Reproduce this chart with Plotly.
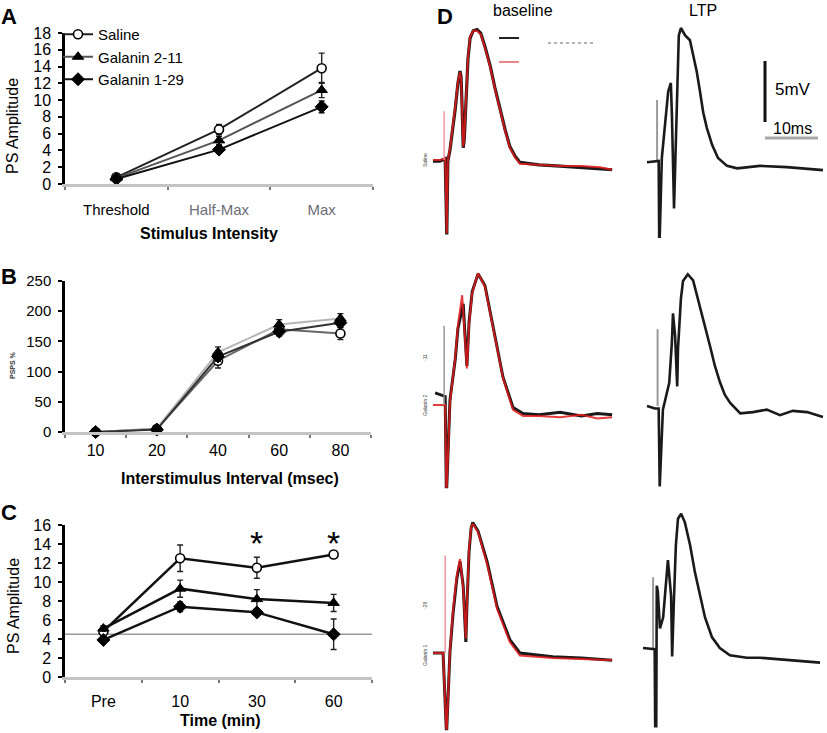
import plotly.graph_objects as go

W, H = 827, 733
FONT = "Liberation Sans, Arial, sans-serif"


def fx(p):
    return p / W


def fy(p):
    return 1 - p / H


SERIES = ["Saline", "Galanin 2-11", "Galanin 1-29"]

# ---------------- Panel A ----------------
A_CATS = ["Threshold", "Half-Max", "Max"]
A_SALINE = [0.8, 6.5, 13.8]
A_SALINE_ERR = [0.2, 0.6, 1.8]
A_G211 = [0.7, 5.2, 11.2]
A_G211_ERR = [0.2, 0.5, 0.9]
A_G129 = [0.6, 4.1, 9.2]
A_G129_ERR = [0.2, 0.4, 0.7]
A_YTICKS = [0, 2, 4, 6, 8, 10, 12, 14, 16, 18]

# ---------------- Panel B ----------------
B_CATS = ["10", "20", "40", "60", "80"]
B_SALINE = [0, 5, 118, 170, 163]
B_SALINE_ERR = [2, 3, 12, 8, 10]
B_G211 = [0, 6, 132, 178, 188]
B_G211_ERR = [2, 3, 9, 8, 8]
B_G129 = [0, 4, 125, 166, 181]
B_G129_ERR = [2, 3, 8, 7, 8]
B_YTICKS = [0, 50, 100, 150, 200, 250]

# ---------------- Panel C ----------------
C_CATS = ["Pre", "10", "30", "60"]
C_SALINE = [4.8, 12.5, 11.5, 12.9]
C_SALINE_ERR = [0.4, 1.4, 1.1, 0.4]
C_G211 = [5.1, 9.3, 8.2, 7.8]
C_G211_ERR = [0.3, 0.9, 1.0, 0.9]
C_G129 = [3.9, 7.4, 6.8, 4.5]
C_G129_ERR = [0.3, 0.5, 0.3, 1.6]
C_YTICKS = [0, 2, 4, 6, 8, 10, 12, 14, 16]
C_BASELINE = [4.5]
C_STAR_CATS = ["30", "60"]
C_STAR_Y = [14.9, 14.9]

# ---------------- Panel D (field potentials, ms / mV) ----------------
BL1_T = [0, 1.3, 2.3, 2.5, 2.6, 2.8, 3.2, 4.2, 4.7, 5.1, 5.3, 5.5, 5.7, 5.9, 6.2, 6.6, 7.0, 7.6, 8.3, 9.0,
         9.8, 10.8, 11.7, 12.6, 13.6, 14.5, 15.5, 16.4, 20, 24, 28, 31.5, 33.8]
BL1_V = [-0.1, -0.1, 0.1, -6.1, -6.1, -0.1, 0.8, 4.2, 6.3, 7.3, 6.8, 4.2, 1.0, 1.7, 5.0, 8.3, 10.0, 10.6, 10.7, 10.4,
         9.3, 7.7, 5.9, 4.2, 2.5, 1.1, 0.3, -0.2, -0.4, -0.5, -0.6, -0.7, -0.8]
BR1_V = [0.0, 0.0, 0.1, -6.0, -6.0, 0.0, 0.9, 4.4, 6.4, 7.2, 6.6, 4.0, 1.1, 1.9, 5.2, 8.4, 10.1, 10.6, 10.6, 10.3,
         9.2, 7.6, 5.8, 4.1, 2.4, 1.0, 0.2, -0.3, -0.4, -0.5, -0.5, -0.6, -0.8]
BS1_T = [2.1, 2.1]
BS1_V = [0, 4.0]

LT1_T = [0, 2.0, 2.2, 2.3, 2.4, 2.8, 3.4, 4.0, 4.5, 4.7, 5.1, 5.5, 5.7, 6.0, 6.4, 7.2, 8.1, 8.7, 9.4, 10.0,
         10.6, 11.3, 12.3, 13.4, 15.1, 17.0, 21.3, 26.4, 33.2]
LT1_V = [-0.1, 0.0, 0.0, -6.2, -6.2, 0.25, 2.95, 5.7, 6.4, 3.8, -3.9, 2.3, 6.4, 10.3, 10.9, 10.3, 9.9, 8.7, 7.3, 5.7,
         4.0, 2.7, 1.3, 0.25, -0.4, -0.6, -0.4, -0.5, -0.75]
LS1_T = [1.9, 1.9]
LS1_V = [0, 5.0]

BL2_T = [0.4, 2.3, 2.5, 2.6, 3.2, 4.2, 4.7, 5.7, 6.0, 6.4, 6.8, 7.4, 8.5, 9.8, 11.3, 13.2, 15.1, 17.0, 20, 24,
         28, 31, 33.8]
BL2_V = [1.0, 0.7, -6.7, -6.7, 0.4, 3.75, 6.25, 8.3, 6.0, 3.2, 6.8, 9.3, 10.75, 9.8, 6.5, 2.3, -0.2, -0.7, -0.8, -0.6,
         -0.9, -0.7, -0.8]
BR2_T = [0, 2.0, 2.3, 2.5, 2.6, 3.2, 4.2, 4.7, 5.5, 5.8, 6.1, 6.4, 6.8, 7.4, 8.5, 9.8, 11.3, 13.2, 15.1, 17.0,
         20, 24, 28, 31, 33.8]
BR2_V = [0, 0, 0, -6.7, -6.7, 0.2, 3.9, 6.5, 9.0, 7.0, 4.5, 3.0, 6.6, 9.2, 10.8, 9.7, 6.4, 2.2, -0.4, -0.9,
         -0.9, -1.0, -0.8, -1.1, -1.0]
BS2_T = [2.1, 2.1]
BS2_V = [0, 6.5]

LT2_T = [0, 1.5, 2.2, 2.3, 2.4, 3.0, 4.2, 4.7, 4.9, 5.3, 5.7, 5.85, 6.4, 6.8, 7.7, 8.7, 10.0, 11.0, 11.9, 12.8,
         13.8, 14.7, 15.7, 17.6, 20, 22.6, 25.1, 27.5, 30.2, 33.2]
LT2_V = [0, -0.2, -0.2, -6.6, -6.6, -0.3, 1.9, 5.25, 7.6, 5.75, 1.6, 4.7, 8.8, 10.25, 10.8, 10.3, 8.2, 6.5, 4.9, 3.3,
         1.9, 0.9, 0.25, -0.6, -0.5, -0.3, -0.75, -0.4, -0.5, -0.9]
LS2_T = [2.0, 2.0]
LS2_V = [0, 6.3]

BL3_T = [0, 1.9, 2.5, 2.6, 3.2, 3.8, 4.5, 5.1, 5.7, 6.2, 6.4, 6.8, 7.2, 7.5, 8.5, 10.2, 12.1, 14.5, 16.4, 22.6,
         28, 33.8]
BL3_V = [0, 0, -6.2, -6.2, 0.1, 3.3, 6.1, 7.5, 5.5, 0.9, 3.8, 8.3, 10.25, 10.7, 10.0, 7.5, 3.8, 1.1, 0, -0.3,
         -0.4, -0.6]
BR3_V = [0, 0, -6.2, -6.2, 0.3, 3.6, 6.4, 7.7, 5.3, 1.2, 4.0, 8.5, 10.3, 10.6, 9.9, 7.3, 3.6, 0.9, -0.2, -0.4,
         -0.5, -0.6]
BS3_T = [2.3, 2.3]
BS3_V = [0, 8.0]

LT3_T = [0, 1.9, 2.2, 2.3, 2.5, 2.6, 2.8, 3.2, 3.8, 4.2, 4.7, 5.3, 5.5, 5.8, 6.2, 6.6, 7.2, 7.9, 8.9, 9.8,
         10.8, 11.7, 13.0, 14.5, 16.4, 19.6, 22.1, 27, 33.4]
LT3_V = [0, -0.1, -0.1, -6.4, -6.4, 5.1, 4.6, 1.6, 2.5, 4.6, 7.2, 4.3, -0.7, 3.5, 8.4, 10.6, 11.0, 10.3, 8.4, 6.2,
         4.1, 2.5, 0.9, 0, -0.6, -0.8, -0.8, -1.0, -1.2]
LS3_T = [1.9, 1.9]
LS3_V = [0, 5.8]

SCALE_MV = [5]
SCALE_MS = [10]

# ---------------- figure ----------------
fig = go.Figure()

MARKERS = [
    dict(symbol="circle", color="white", size=9, line=dict(color="black", width=1.6)),
    dict(symbol="triangle-up", color="black", size=10, line=dict(color="black", width=1)),
    dict(symbol="diamond", color="black", size=10, line=dict(color="black", width=1)),
]


def add_group(cats, vals, errs, ax, colors, width, legend):
    for i in range(3):
        fig.add_trace(go.Scatter(
            x=cats, y=vals[i], name=SERIES[i], mode="lines+markers",
            xaxis="x" + ax, yaxis="y" + ax,
            line=dict(color=colors[i], width=width),
            marker=MARKERS[i],
            error_y=dict(type="data", array=errs[i], color="#222", thickness=1.4, width=3),
            showlegend=legend, cliponaxis=False,
        ))


add_group(A_CATS, [A_SALINE, A_G211, A_G129], [A_SALINE_ERR, A_G211_ERR, A_G129_ERR],
          "", ["#222", "#555", "#111"], 2, True)
add_group(B_CATS, [B_SALINE, B_G211, B_G129], [B_SALINE_ERR, B_G211_ERR, B_G129_ERR],
          "2", ["#666", "#b5b5b5", "#333"], 2, False)
add_group(C_CATS, [C_SALINE, C_G211, C_G129], [C_SALINE_ERR, C_G211_ERR, C_G129_ERR],
          "3", ["#111", "#111", "#111"], 2.5, False)

# stars in C (category positions by index)
for cat, yv in zip(C_STAR_CATS, C_STAR_Y):
    fig.add_annotation(x=C_CATS.index(cat), y=yv, xref="x3", yref="y3", text="*", showarrow=False,
                       font=dict(size=34, family=FONT, color="black"), yanchor="middle", yshift=-8)

fig.add_shape(type="line", xref="x3 domain", yref="y3", x0=0, x1=1, y0=C_BASELINE[0], y1=C_BASELINE[0],
              line=dict(color="#9a9a9a", width=1.5), layer="below")

# ---- D panels ----
PX_MS = 5.3
PX_MV = 12.2
BLACK = "#1a1a1a"
RED = "rgba(228,25,25,0.85)"
PINK = "rgba(240,140,150,0.9)"
GRAY = "#9a9a9a"

panels = [
    # (axis idx, sx, by, left, right, top, bottom, traces)
    (4, 433, 160, 424, 620, 20, 245,
     [(BL1_T, BL1_V, BLACK, 3.2), (BL1_T, BR1_V, RED, 2.0), (BS1_T, BS1_V, PINK, 1.5)]),
    (5, 647, 161, 636, 827, 20, 245,
     [(LS1_T, LS1_V, GRAY, 2.0), (LT1_T, LT1_V, BLACK, 2.6)]),
    (6, 433, 405, 424, 620, 250, 492,
     [(BL2_T, BL2_V, BLACK, 3.0), (BR2_T, BR2_V, RED, 2.0), (BS2_T, BS2_V, GRAY, 1.5)]),
    (7, 647, 406, 636, 827, 250, 492,
     [(LS2_T, LS2_V, GRAY, 2.0), (LT2_T, LT2_V, BLACK, 2.6)]),
    (8, 433, 653, 424, 620, 495, 733,
     [(BL3_T, BL3_V, BLACK, 3.0), (BL3_T, BR3_V, RED, 2.0), (BS3_T, BS3_V, PINK, 1.5)]),
    (9, 643, 648, 636, 827, 495, 733,
     [(LS3_T, LS3_V, GRAY, 2.0), (LT3_T, LT3_V, BLACK, 2.6)]),
]

layout_axes = {}
for idx, sx, by, left, right, top, bottom, trs in panels:
    for t, v, col, w in trs:
        fig.add_trace(go.Scatter(x=t, y=v, mode="lines", line=dict(color=col, width=w),
                                 xaxis="x%d" % idx, yaxis="y%d" % idx, showlegend=False,
                                 hoverinfo="skip"))
    layout_axes["xaxis%d" % idx] = dict(domain=[fx(left), fx(right)],
                                        range=[(left - sx) / PX_MS, (right - sx) / PX_MS],
                                        visible=False, anchor="y%d" % idx, automargin=False)
    layout_axes["yaxis%d" % idx] = dict(domain=[fy(bottom), fy(top)],
                                        range=[(by - bottom) / PX_MV, (by - top) / PX_MV],
                                        visible=False, anchor="x%d" % idx, automargin=False)

# scale bar (in LTP row-1 axes)
SB_T0 = (765 - 647) / PX_MS
SB_V0 = (161 - 122) / PX_MV
fig.add_trace(go.Scatter(x=[SB_T0, SB_T0], y=[SB_V0, SB_V0 + SCALE_MV[0]], mode="lines",
                         line=dict(color="#111", width=3), xaxis="x5", yaxis="y5",
                         showlegend=False, hoverinfo="skip"))
SB_V1 = (161 - 138) / PX_MV
fig.add_trace(go.Scatter(x=[SB_T0, SB_T0 + SCALE_MS[0]], y=[SB_V1, SB_V1], mode="lines",
                         line=dict(color="#a8a8a8", width=3), xaxis="x5", yaxis="y5",
                         showlegend=False, hoverinfo="skip"))

# ---- left axes ----
xa_common = dict(type="category", showline=True, linecolor="#c4c4c4", linewidth=2.5, automargin=False,
                 ticks="outside", tickson="boundaries", ticklen=3, tickcolor="#777", tickwidth=1.5,
                 showgrid=False, zeroline=False, tickfont=dict(size=15, family=FONT, color="black"))
ya_common = dict(showline=True, linecolor="black", linewidth=2.5, ticks="outside", ticklen=4, automargin=False,
                 tickcolor="black", tickwidth=1.5, showgrid=False, zeroline=False,
                 tickfont=dict(size=16, family=FONT, color="black"), ticklabelstandoff=4)

fig.update_layout(
    width=W, height=H, margin=dict(l=0, r=0, t=0, b=0, autoexpand=False),
    paper_bgcolor="white", plot_bgcolor="rgba(0,0,0,0)",
    font=dict(family=FONT, color="black"),
    xaxis=dict(xa_common, domain=[fx(65), fx(373)], range=[-0.5, 2.5], anchor="y",
               tickvals=A_CATS,
               ticktext=["Threshold", "<span style='color:#6d6d78'>Half-Max</span>",
                         "<span style='color:#6d6d78'>Max</span>"],
               ticklabelstandoff=10),
    yaxis=dict(ya_common, domain=[fy(184), fy(33)], range=[0, 18], tickvals=A_YTICKS, anchor="x"),
    xaxis2=dict(xa_common, domain=[fx(65), fx(371)], range=[-0.5, 4.5], anchor="y2",
                tickfont=dict(size=16, family=FONT, color="black"), ticklabelstandoff=2),
    yaxis2=dict(ya_common, domain=[fy(432), fy(281)], range=[0, 250], tickvals=B_YTICKS, anchor="x2",
                tickfont=dict(size=15, family=FONT, color="black")),
    xaxis3=dict(xa_common, domain=[fx(65), fx(372)], range=[-0.5, 3.5], anchor="y3",
                tickfont=dict(size=16, family=FONT, color="black"), ticklabelstandoff=8),
    yaxis3=dict(ya_common, domain=[fy(677), fy(525)], range=[0, 16], tickvals=C_YTICKS, anchor="x3"),
    legend=dict(x=fx(58), y=fy(18), xanchor="left", yanchor="top", bgcolor="rgba(0,0,0,0)",
                font=dict(size=15, family=FONT, color="black"), tracegroupgap=0,
                itemwidth=30),
    **layout_axes,
)

# ---- text annotations ----
def txt(x, y, s, size, bold=False, angle=0, color="black", xanchor="center"):
    fig.add_annotation(x=fx(x), y=fy(y), xref="paper", yref="paper", text=("<b>%s</b>" % s) if bold else s,
                       showarrow=False, textangle=angle, xanchor=xanchor, yanchor="middle",
                       font=dict(size=size, family=FONT, color=color))


txt(9, 16, "A", 22, bold=True)
txt(9, 277, "B", 22, bold=True)
txt(9, 512, "C", 22, bold=True)
txt(445, 16, "D", 22, bold=True)
txt(209, 234, "Stimulus Intensity", 16, bold=True)
txt(230, 478, "Interstimulus Interval (msec)", 16, bold=True)
txt(220, 720, "Time (min)", 16, bold=True)
txt(13, 126, "PS Amplitude", 16, angle=-90)
txt(13, 606, "PS Amplitude", 16, angle=-90)
txt(12, 365, "PSPS %", 7, bold=True, angle=-90, color="#333")
txt(523, 10, "baseline", 16)
txt(703, 10, "LTP", 16)
txt(773, 90, "5mV", 17, xanchor="left")
txt(771, 128, "10ms", 16, xanchor="left")
txt(425, 160, "Saline", 5, angle=-90, color="#444")
txt(425, 405, "Galanin 2", 5, angle=-90, color="#444")
txt(425, 358, "-11", 5, angle=-90, color="#444")
txt(425, 655, "Galanin 1", 5, angle=-90, color="#444")
txt(425, 606, "-29", 5, angle=-90, color="#444")

# legend residue dashes in the baseline panel
fig.add_shape(type="line", xref="paper", yref="paper", x0=fx(499), x1=fx(519), y0=fy(38), y1=fy(38),
              line=dict(color="#222", width=2))
fig.add_shape(type="line", xref="paper", yref="paper", x0=fx(499), x1=fx(519), y0=fy(62), y1=fy(62),
              line=dict(color="#e06060", width=1.5))
fig.add_shape(type="line", xref="paper", yref="paper", x0=fx(548), x1=fx(593), y0=fy(43), y1=fy(43),
              line=dict(color="#999", width=1.5, dash="dot"))

fig.write_html("out.html", config={"displayModeBar": False},
               post_script="document.body.style.margin='0';document.body.style.padding='0';")
